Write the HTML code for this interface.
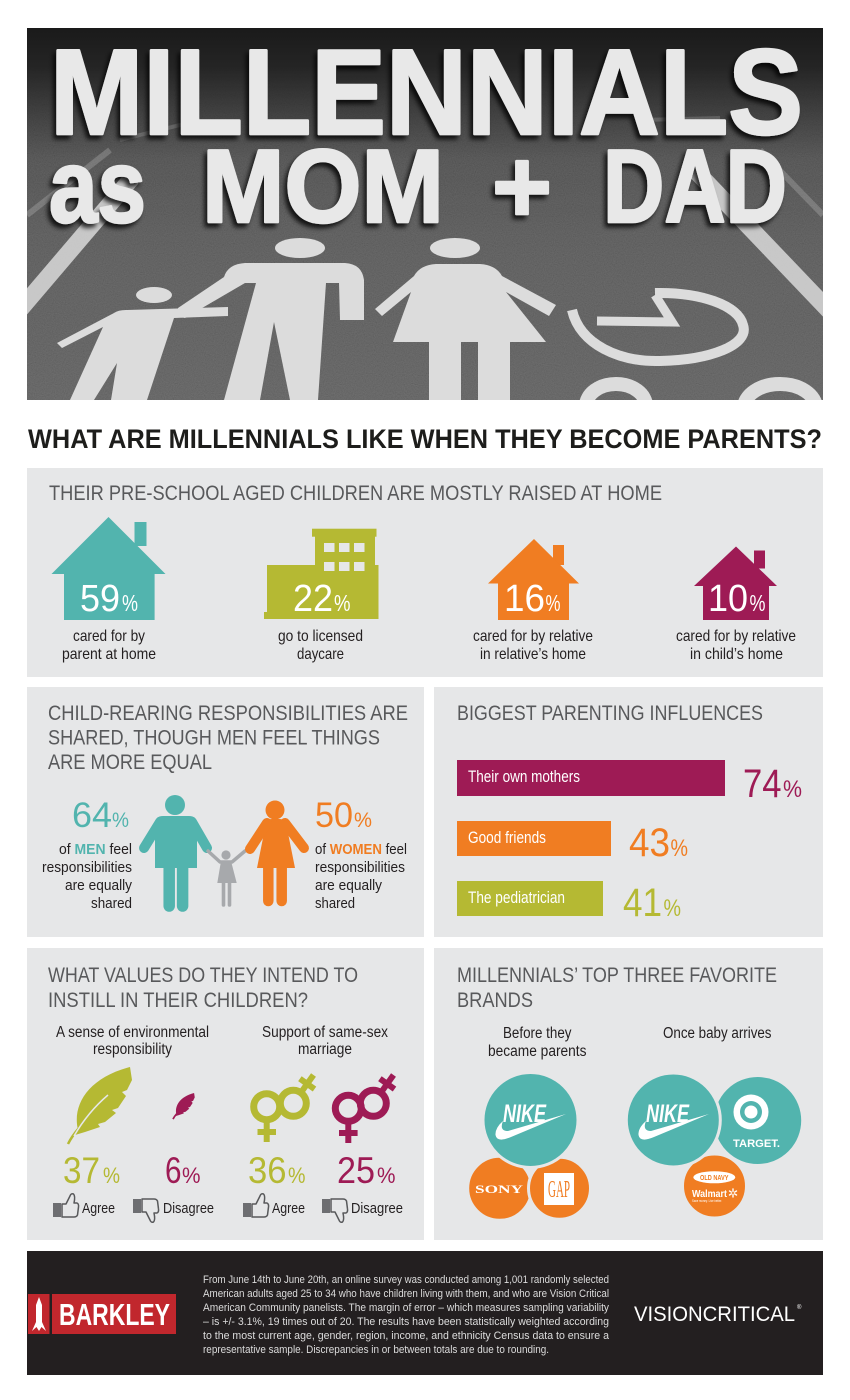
<!DOCTYPE html>
<html><head><meta charset="utf-8">
<style>
html,body{margin:0;padding:0;background:#fff;}
svg{display:block;}
.c{font-family:"Liberation Sans Narrow","Liberation Sans","DejaVu Sans Condensed",sans-serif;}
.s{font-family:"Liberation Sans","DejaVu Sans",sans-serif;}
.sf{font-family:"Liberation Serif","DejaVu Serif",serif;}
</style></head>
<body>
<svg width="850" height="1400" viewBox="0 0 850 1400" xmlns="http://www.w3.org/2000/svg">
<defs>
  <linearGradient id="sky" x1="0" y1="0" x2="0" y2="1">
    <stop offset="0" stop-color="#1a1a1a"/>
    <stop offset="0.12" stop-color="#262626"/>
    <stop offset="0.35" stop-color="#3e3e3e"/>
    <stop offset="0.6" stop-color="#4b4b4b"/>
    <stop offset="1" stop-color="#525252"/>
  </linearGradient>
  <linearGradient id="mg" x1="0" y1="0" x2="0" y2="1">
    <stop offset="0" stop-color="#000"/>
    <stop offset="0.1" stop-color="#000"/>
    <stop offset="0.35" stop-color="#fff"/>
    <stop offset="1" stop-color="#fff"/>
  </linearGradient>
  <mask id="nm"><rect x="27" y="28" width="796" height="372" fill="url(#mg)"/></mask>
  <filter id="sh" x="-5%" y="-10%" width="110%" height="130%">
    <feDropShadow dx="-3" dy="4" stdDeviation="2.5" flood-color="#000" flood-opacity="0.8"/>
  </filter>
  <filter id="nz" x="0" y="0" width="100%" height="100%">
    <feTurbulence type="fractalNoise" baseFrequency="0.9" numOctaves="2" seed="4"/>
    <feColorMatrix type="matrix" values="0.33 0.33 0.33 0 0  0.33 0.33 0.33 0 0  0.33 0.33 0.33 0 0  0 0 0 0 0.22"/>
  </filter>
  <clipPath id="hc"><rect x="27" y="28" width="796" height="372"/></clipPath>
  <g id="thumb">
    <rect x="53" y="1203" width="8" height="14" fill="#6d6e71"/>
    <path d="M62,1204 L66,1204 L70,1196 Q71,1193 73.5,1194 Q75.5,1196 74,1203 L77,1203 Q79,1204 78.5,1207 L77.5,1215 Q76.5,1217 74,1217 L62,1217 Z" fill="#e6e7e8" stroke="#58595b" stroke-width="1.5" stroke-linejoin="round"/>
  </g>
</defs>

<!-- HEADER -->
<g clip-path="url(#hc)">
  <rect x="27" y="28" width="796" height="372" fill="url(#sky)"/>
  <rect x="27" y="28" width="796" height="372" filter="url(#nz)" mask="url(#nm)"/>
  <!-- road stripes -->
  <g stroke="#d9d9d9" stroke-linecap="butt" fill="none">
    <line x1="18" y1="312" x2="132" y2="178" stroke-width="17" opacity="0.85"/>
    <line x1="690" y1="165" x2="838" y2="320" stroke-width="17" opacity="0.85"/>
    <line x1="27" y1="215" x2="110" y2="150" stroke-width="6" opacity="0.25"/>
    <line x1="120" y1="140" x2="200" y2="120" stroke-width="4" opacity="0.2"/>
    <line x1="760" y1="150" x2="823" y2="215" stroke-width="6" opacity="0.25"/>
    <line x1="640" y1="120" x2="720" y2="118" stroke-width="4" opacity="0.2"/>
  </g>
  <!-- figures -->
  <g fill="#dcdcdc">
    <ellipse cx="300" cy="248" rx="25" ry="10"/>
    <path d="M224,277 Q228,264 245,263 L345,263 Q362,264 364,280 L364,320 L340,320 L339,283 L326,283 L318,400 L290,400 L274,322 L260,400 L224,400 L256,283 L245,283 L185,318 L177,316 L178,308 Z"/>
    <ellipse cx="154" cy="295" rx="18" ry="8"/>
    <path d="M114,313 Q118,310 126,310 L228,307 L228,316 L174,318 L147,400 L111,400 L117,363 L94,400 L70,400 L103,327 L62,348 L57,343 Z"/>
    <ellipse cx="455" cy="248" rx="25" ry="10"/>
    <path d="M414,276 Q420,265 436,264 L480,264 Q496,265 502,276 L556,305 L549,316 L506,292 L546,342 L393,342 L411,292 L382,316 L375,309 Z"/>
    <rect x="429" y="342" width="32" height="60"/>
    <rect x="478" y="342" width="32" height="60"/>
  </g>
  <g fill="none" stroke="#dcdcdc">
    <path d="M572,310 C580,345 620,362 660,361 C710,360 750,345 743,325 C738,305 700,292 655,293" stroke-width="10"/>
    <path d="M655,295 L672,322 L597,321" stroke-width="9"/>
    <ellipse cx="616" cy="406" rx="30" ry="22" stroke-width="14"/>
    <ellipse cx="780" cy="408" rx="36" ry="24" stroke-width="14"/>
  </g>
  <!-- headline -->
  <g filter="url(#sh)" fill="#e8e8e8" stroke="#e8e8e8" stroke-width="2.5" stroke-linejoin="round" class="c" font-weight="bold">
    <text x="50" y="134" font-size="122" textLength="753" lengthAdjust="spacingAndGlyphs">MILLENNIALS</text>
    <text x="49" y="222" font-size="104" textLength="97" lengthAdjust="spacingAndGlyphs">as</text>
    <text x="202" y="222" font-size="104" textLength="242" lengthAdjust="spacingAndGlyphs">MOM</text>
    <text x="492" y="222" font-size="104" textLength="60" lengthAdjust="spacingAndGlyphs">+</text>
    <text x="603" y="222" font-size="104" textLength="184" lengthAdjust="spacingAndGlyphs">DAD</text>
  </g>
</g>

<!-- MAIN HEADING -->
<text class="c" x="28" y="448" font-size="26.5" font-weight="bold" fill="#1d1d1b" textLength="794" lengthAdjust="spacingAndGlyphs">WHAT ARE MILLENNIALS LIKE WHEN THEY BECOME PARENTS?</text>

<!-- PANELS -->
<g fill="#e6e7e8">
  <rect x="27" y="468" width="796" height="209"/>
  <rect x="27" y="687" width="397" height="250"/>
  <rect x="434" y="687" width="389" height="250"/>
  <rect x="27" y="948" width="397" height="292"/>
  <rect x="434" y="948" width="389" height="292"/>
</g>

<!-- PANEL 1 -->
<text class="c" x="49" y="500" font-size="21" fill="#58595b" textLength="613" lengthAdjust="spacingAndGlyphs">THEIR PRE-SCHOOL AGED CHILDREN ARE MOSTLY RAISED AT HOME</text>

<g fill="#52b4ae">
  <rect x="134.5" y="522" width="12" height="24"/>
  <polygon points="108.5,517 165.5,574 51.5,574"/>
  <rect x="64" y="573" width="90.6" height="47"/>
</g>
<g fill="#b5b933">
  <rect x="312" y="528.7" width="64.5" height="8"/>
  <rect x="315" y="536" width="60" height="31"/>
  <rect x="267" y="565" width="111.5" height="51"/>
  <rect x="264" y="612" width="114.5" height="7"/>
</g>
<g fill="#e6e7e8">
  <rect x="324" y="543" width="10.5" height="9"/>
  <rect x="339" y="543" width="10.5" height="9"/>
  <rect x="354" y="543" width="10.5" height="9"/>
  <rect x="324" y="562" width="10.5" height="9"/>
  <rect x="339" y="562" width="10.5" height="9"/>
  <rect x="354" y="562" width="10.5" height="9"/>
</g>
<g fill="#f07d22">
  <rect x="553" y="545" width="11" height="20"/>
  <polygon points="534,539 579,583.5 488,583.5"/>
  <rect x="498" y="583" width="71" height="37"/>
</g>
<g fill="#9e1b55">
  <rect x="754" y="550.5" width="11" height="18"/>
  <polygon points="736,546.5 777,586 694,586"/>
  <rect x="703" y="585.5" width="66" height="34.5"/>
</g>
<g class="c" fill="#ffffff">
  <text x="80" y="611" font-size="38" textLength="40" lengthAdjust="spacingAndGlyphs">59</text>
  <text x="122" y="611" font-size="23" textLength="16" lengthAdjust="spacingAndGlyphs">%</text>
  <text x="293" y="611" font-size="38" textLength="40" lengthAdjust="spacingAndGlyphs">22</text>
  <text x="334" y="611" font-size="23" textLength="16.5" lengthAdjust="spacingAndGlyphs">%</text>
  <text x="504" y="611" font-size="38" textLength="41" lengthAdjust="spacingAndGlyphs">16</text>
  <text x="545.5" y="611" font-size="23" textLength="15" lengthAdjust="spacingAndGlyphs">%</text>
  <text x="708" y="611" font-size="38" textLength="40" lengthAdjust="spacingAndGlyphs">10</text>
  <text x="749.5" y="611" font-size="23" textLength="16" lengthAdjust="spacingAndGlyphs">%</text>
</g>
<g class="c" fill="#231f20" font-size="16">
  <text x="73" y="641" textLength="72" lengthAdjust="spacingAndGlyphs">cared for by</text>
  <text x="62" y="659" textLength="94" lengthAdjust="spacingAndGlyphs">parent at home</text>
  <text x="278" y="641" textLength="85" lengthAdjust="spacingAndGlyphs">go to licensed</text>
  <text x="297" y="659" textLength="47" lengthAdjust="spacingAndGlyphs">daycare</text>
  <text x="473" y="641" textLength="120" lengthAdjust="spacingAndGlyphs">cared for by relative</text>
  <text x="480" y="659" textLength="106" lengthAdjust="spacingAndGlyphs">in relative’s home</text>
  <text x="676" y="641" textLength="120" lengthAdjust="spacingAndGlyphs">cared for by relative</text>
  <text x="690" y="659" textLength="93" lengthAdjust="spacingAndGlyphs">in child’s home</text>
</g>

<!-- PANEL 2 LEFT -->
<g class="c" fill="#58595b" font-size="21">
  <text x="48" y="720" textLength="360" lengthAdjust="spacingAndGlyphs">CHILD-REARING RESPONSIBILITIES ARE</text>
  <text x="48" y="744.5" textLength="332" lengthAdjust="spacingAndGlyphs">SHARED, THOUGH MEN FEEL THINGS</text>
  <text x="48" y="769" textLength="164" lengthAdjust="spacingAndGlyphs">ARE MORE EQUAL</text>
</g>
<g class="c">
  <text x="72" y="827" font-size="35" fill="#52b4ae" textLength="40" lengthAdjust="spacingAndGlyphs">64</text>
  <text x="112" y="827" font-size="21" fill="#52b4ae" textLength="17" lengthAdjust="spacingAndGlyphs">%</text>
  <text x="315" y="827" font-size="35" fill="#f07d22" textLength="38" lengthAdjust="spacingAndGlyphs">50</text>
  <text x="354" y="827" font-size="21" fill="#f07d22" textLength="18" lengthAdjust="spacingAndGlyphs">%</text>
</g>
<g class="s" fill="#231f20" font-size="14.5">
  <text x="59" y="854" textLength="73" lengthAdjust="spacingAndGlyphs">of <tspan font-weight="bold" fill="#52b4ae">MEN</tspan> feel</text>
  <text x="42" y="872" textLength="90" lengthAdjust="spacingAndGlyphs">responsibilities</text>
  <text x="65" y="890" textLength="67" lengthAdjust="spacingAndGlyphs">are equally</text>
  <text x="91" y="908" textLength="41" lengthAdjust="spacingAndGlyphs">shared</text>
  <text x="315" y="854" textLength="92" lengthAdjust="spacingAndGlyphs">of <tspan font-weight="bold" fill="#f07d22">WOMEN</tspan> feel</text>
  <text x="315" y="872" textLength="90" lengthAdjust="spacingAndGlyphs">responsibilities</text>
  <text x="315" y="890" textLength="67" lengthAdjust="spacingAndGlyphs">are equally</text>
  <text x="315" y="908" textLength="40" lengthAdjust="spacingAndGlyphs">shared</text>
</g>
<g fill="#52b4ae" stroke="#52b4ae" stroke-linecap="round">
  <circle cx="175" cy="805" r="10" stroke="none"/>
  <path d="M155,868 L155,824 Q155,816 163,816 L189,816 Q197,816 197,824 L197,868 Z" stroke="none"/>
  <line x1="160" y1="822" x2="144" y2="848" stroke-width="10"/>
  <line x1="192" y1="822" x2="207" y2="848" stroke-width="10"/>
  <line x1="169.2" y1="866" x2="169.2" y2="906" stroke-width="11.5"/>
  <line x1="182.6" y1="866" x2="182.6" y2="906" stroke-width="11.5"/>
</g>
<g fill="#a7a9ac" stroke="#a7a9ac" stroke-linecap="round">
  <circle cx="226" cy="855" r="4.6" stroke="none"/>
  <polyline points="208,851 220,862 232,862 245,851" fill="none" stroke-width="3.5" stroke-linejoin="round"/>
  <polygon points="221,861 231,861 236.7,883 217.3,883" stroke="none"/>
  <line x1="223.5" y1="882" x2="223.5" y2="905" stroke-width="3.6"/>
  <line x1="229.5" y1="882" x2="229.5" y2="905" stroke-width="3.6"/>
</g>
<g fill="#f07d22" stroke="#f07d22" stroke-linecap="round">
  <circle cx="275" cy="810" r="9.5" stroke="none"/>
  <path d="M265,828 Q265,819 272,819 L279,819 Q287,819 287,828 L295,868 L257,868 Z" stroke="none"/>
  <line x1="267" y1="823" x2="250" y2="849" stroke-width="10"/>
  <line x1="285" y1="823" x2="304" y2="848" stroke-width="10"/>
  <line x1="268.3" y1="866" x2="268.3" y2="901" stroke-width="10.5"/>
  <line x1="281.7" y1="866" x2="281.7" y2="901" stroke-width="10.5"/>
</g>

<!-- PANEL 2 RIGHT -->
<text class="c" x="457" y="720" font-size="21" fill="#58595b" textLength="306" lengthAdjust="spacingAndGlyphs">BIGGEST PARENTING INFLUENCES</text>
<rect x="457" y="760" width="268" height="36" fill="#9e1b55"/>
<rect x="457" y="821" width="154" height="35" fill="#f07d22"/>
<rect x="457" y="881" width="146" height="35" fill="#b5b933"/>
<g class="c" fill="#ffffff" font-size="16.5">
  <text x="468" y="782" textLength="112" lengthAdjust="spacingAndGlyphs">Their own mothers</text>
  <text x="468" y="843" textLength="78" lengthAdjust="spacingAndGlyphs">Good friends</text>
  <text x="468" y="903" textLength="97" lengthAdjust="spacingAndGlyphs">The pediatrician</text>
</g>
<g class="c">
  <text x="743" y="797" font-size="40" fill="#9e1b55" textLength="38.5" lengthAdjust="spacingAndGlyphs">74</text>
  <text x="783" y="797" font-size="24" fill="#9e1b55" textLength="19" lengthAdjust="spacingAndGlyphs">%</text>
  <text x="629" y="856" font-size="40" fill="#f07d22" textLength="41" lengthAdjust="spacingAndGlyphs">43</text>
  <text x="670.5" y="856" font-size="24" fill="#f07d22" textLength="17.5" lengthAdjust="spacingAndGlyphs">%</text>
  <text x="623" y="916" font-size="40" fill="#b5b933" textLength="39" lengthAdjust="spacingAndGlyphs">41</text>
  <text x="663.5" y="916" font-size="24" fill="#b5b933" textLength="17.5" lengthAdjust="spacingAndGlyphs">%</text>
</g>

<!-- PANEL 3 LEFT -->
<g class="c" fill="#58595b" font-size="21">
  <text x="48" y="982" textLength="310" lengthAdjust="spacingAndGlyphs">WHAT VALUES DO THEY INTEND TO</text>
  <text x="48" y="1007" textLength="260" lengthAdjust="spacingAndGlyphs">INSTILL IN THEIR CHILDREN?</text>
</g>
<g class="c" fill="#231f20" font-size="15.5">
  <text x="56" y="1037" textLength="153" lengthAdjust="spacingAndGlyphs">A sense of environmental</text>
  <text x="93" y="1054" textLength="79" lengthAdjust="spacingAndGlyphs">responsibility</text>
  <text x="262" y="1037" textLength="126" lengthAdjust="spacingAndGlyphs">Support of same-sex</text>
  <text x="298" y="1054" textLength="54" lengthAdjust="spacingAndGlyphs">marriage</text>
</g>
<g>
  <path d="M78,1130 C72,1105 88,1078 130,1067 L132,1080 L127,1090 L122,1092 L126,1096 L118,1108 L112,1110 L116,1113 L105,1122 L98,1124 L100,1127 L85,1132 L75,1135 Z" fill="#b5b933"/>
  <path d="M79,1128 Q72,1136 68,1144" stroke="#b5b933" stroke-width="2.5" fill="none"/>
  <path d="M74,1136 Q88,1112 108,1095" stroke="#e6e7e8" stroke-width="1.5" fill="none"/>
</g>
<g transform="translate(173,1093) scale(0.34) translate(-68,-1067)">
  <path d="M78,1130 C72,1105 88,1078 130,1067 L132,1080 L127,1090 L122,1092 L126,1096 L118,1108 L112,1110 L116,1113 L105,1122 L98,1124 L100,1127 L85,1132 L75,1135 Z" fill="#9e1b55"/>
  <path d="M79,1128 Q72,1136 68,1144" stroke="#9e1b55" stroke-width="5" fill="none"/>
</g>
<g fill="none" stroke="#b5b933" stroke-width="7">
  <circle cx="266.7" cy="1106.7" r="13"/>
  <line x1="266.7" y1="1120" x2="266.7" y2="1142" stroke-width="6"/>
  <line x1="257.5" y1="1132" x2="276" y2="1132" stroke-width="6"/>
  <circle cx="293.3" cy="1103.3" r="13"/>
  <line x1="302.6" y1="1090.3" x2="313.5" y2="1075" stroke-width="6"/>
  <line x1="299.9" y1="1078.7" x2="314.5" y2="1089.1" stroke-width="6"/>
</g>
<g fill="none" stroke="#9e1b55" stroke-width="7">
  <circle cx="348.3" cy="1108.3" r="13"/>
  <line x1="348.3" y1="1121.5" x2="348.3" y2="1143" stroke-width="6"/>
  <line x1="339" y1="1133" x2="357.6" y2="1133" stroke-width="6"/>
  <circle cx="373.3" cy="1103.3" r="13"/>
  <line x1="382.6" y1="1090.3" x2="393.5" y2="1075" stroke-width="6"/>
  <line x1="379.9" y1="1078.7" x2="394.5" y2="1089.1" stroke-width="6"/>
</g>
<g class="c">
  <text x="63" y="1183" font-size="37" fill="#b5b933" textLength="37" lengthAdjust="spacingAndGlyphs">37</text>
  <text x="103" y="1183" font-size="22" fill="#b5b933" textLength="17" lengthAdjust="spacingAndGlyphs">%</text>
  <text x="165" y="1183" font-size="37" fill="#9e1b55" textLength="16.5" lengthAdjust="spacingAndGlyphs">6</text>
  <text x="182" y="1183" font-size="22" fill="#9e1b55" textLength="18.5" lengthAdjust="spacingAndGlyphs">%</text>
  <text x="248" y="1183" font-size="37" fill="#b5b933" textLength="38.5" lengthAdjust="spacingAndGlyphs">36</text>
  <text x="288" y="1183" font-size="22" fill="#b5b933" textLength="17.5" lengthAdjust="spacingAndGlyphs">%</text>
  <text x="337" y="1183" font-size="37" fill="#9e1b55" textLength="38" lengthAdjust="spacingAndGlyphs">25</text>
  <text x="377" y="1183" font-size="22" fill="#9e1b55" textLength="18.5" lengthAdjust="spacingAndGlyphs">%</text>
</g>
<use href="#thumb"/>
<use href="#thumb" transform="matrix(1,0,0,-1,80,2416)"/>
<use href="#thumb" transform="translate(190,0)"/>
<use href="#thumb" transform="matrix(1,0,0,-1,269,2416)"/>
<g class="c" fill="#231f20" font-size="15">
  <text x="82" y="1213" textLength="33" lengthAdjust="spacingAndGlyphs">Agree</text>
  <text x="163" y="1213" textLength="51" lengthAdjust="spacingAndGlyphs">Disagree</text>
  <text x="272" y="1213" textLength="33" lengthAdjust="spacingAndGlyphs">Agree</text>
  <text x="351" y="1213" textLength="52" lengthAdjust="spacingAndGlyphs">Disagree</text>
</g>

<!-- PANEL 3 RIGHT -->
<g class="c" fill="#58595b" font-size="21">
  <text x="457" y="982" textLength="320" lengthAdjust="spacingAndGlyphs">MILLENNIALS’ TOP THREE FAVORITE</text>
  <text x="457" y="1007" textLength="76" lengthAdjust="spacingAndGlyphs">BRANDS</text>
</g>
<g class="c" fill="#231f20" font-size="15.5">
  <text x="503" y="1038" textLength="68.5" lengthAdjust="spacingAndGlyphs">Before they</text>
  <text x="488" y="1056" textLength="98.5" lengthAdjust="spacingAndGlyphs">became parents</text>
  <text x="663" y="1038" textLength="108.5" lengthAdjust="spacingAndGlyphs">Once baby arrives</text>
</g>
<g stroke="#e6e7e8" stroke-width="3">
  <circle cx="499.7" cy="1188.3" r="32" fill="#f07d22"/>
  <circle cx="559.5" cy="1188.3" r="31" fill="#f07d22"/>
  <circle cx="530.5" cy="1120" r="47.5" fill="#52b4ae"/>
</g>
<text class="sf" x="475" y="1193" font-size="12" font-weight="bold" fill="#ffffff" textLength="48" lengthAdjust="spacingAndGlyphs">SONY</text>
<rect x="544" y="1173" width="30" height="32" fill="#ffffff"/>
<text class="sf" x="548" y="1197" font-size="24" fill="#f07d22" textLength="22" lengthAdjust="spacingAndGlyphs">GAP</text>
<g id="nike">
  <text class="c" x="503" y="1122" font-size="25" font-weight="bold" font-style="italic" fill="#ffffff" textLength="43" lengthAdjust="spacingAndGlyphs">NIKE</text>
  <path d="M566,1114 L511,1137 Q497,1143 495.5,1135 Q495,1128 503,1121 Q499,1131 508,1131 Z" fill="#ffffff"/>
</g>
<g stroke="#e6e7e8" stroke-width="3">
  <circle cx="714.5" cy="1186" r="32" fill="#f07d22"/>
  <circle cx="757.7" cy="1120.5" r="45" fill="#52b4ae"/>
  <circle cx="673.3" cy="1120" r="47" fill="#52b4ae"/>
</g>
<use href="#nike" transform="translate(143,0)"/>
<circle cx="751" cy="1112" r="17.5" fill="#ffffff"/>
<circle cx="751" cy="1112" r="11" fill="#52b4ae"/>
<circle cx="751" cy="1112" r="6.5" fill="#ffffff"/>
<text class="s" x="733" y="1147" font-size="11" font-weight="bold" fill="#ffffff" textLength="47" lengthAdjust="spacingAndGlyphs">TARGET.</text>
<ellipse cx="714.3" cy="1177.3" rx="21" ry="6" fill="#ffffff"/>
<text class="s" x="700" y="1180" font-size="7" font-weight="bold" fill="#f07d22" textLength="28.5" lengthAdjust="spacingAndGlyphs">OLD NAVY</text>
<text class="s" x="692" y="1197" font-size="10" font-weight="bold" fill="#ffffff" textLength="35" lengthAdjust="spacingAndGlyphs">Walmart</text>
<g stroke="#ffffff" stroke-width="1.4" stroke-linecap="round">
  <line x1="733" y1="1189" x2="733" y2="1191.5"/>
  <line x1="733" y1="1194.5" x2="733" y2="1197"/>
  <line x1="729.5" y1="1191" x2="731.5" y2="1192.2"/>
  <line x1="734.5" y1="1193.8" x2="736.5" y2="1195"/>
  <line x1="729.5" y1="1195" x2="731.5" y2="1193.8"/>
  <line x1="734.5" y1="1192.2" x2="736.5" y2="1191"/>
</g>
<text class="s" x="692" y="1202" font-size="3.5" fill="#ffffff" textLength="30" lengthAdjust="spacingAndGlyphs">Save money. Live better.</text>

<!-- FOOTER -->
<rect x="27" y="1251" width="796" height="124" fill="#231f20"/>
<rect x="28" y="1294" width="21.5" height="40" fill="#c1272d"/>
<rect x="52" y="1294" width="124" height="40" fill="#c1272d"/>
<path d="M39,1297 L42,1305 L42,1322 L46,1331 L41.5,1327 L39,1331 L36.5,1327 L32,1331 L36,1322 L36,1305 Z" fill="#ffffff"/>
<text class="c" x="59" y="1325" font-size="31" font-weight="bold" fill="#ffffff" textLength="111" lengthAdjust="spacingAndGlyphs">BARKLEY</text>
<g class="c" fill="#dcdcdc" font-size="10.8">
  <text x="203" y="1283" textLength="406" lengthAdjust="spacingAndGlyphs">From June 14th to June 20th, an online survey was conducted among 1,001 randomly selected</text>
  <text x="203" y="1297" textLength="406" lengthAdjust="spacingAndGlyphs">American adults aged 25 to 34 who have children living with them, and who are Vision Critical</text>
  <text x="203" y="1311" textLength="406" lengthAdjust="spacingAndGlyphs">American Community panelists. The margin of error – which measures sampling variability</text>
  <text x="203" y="1325" textLength="406" lengthAdjust="spacingAndGlyphs">– is +/- 3.1%, 19 times out of 20. The results have been statistically weighted according</text>
  <text x="203" y="1339" textLength="406" lengthAdjust="spacingAndGlyphs">to the most current age, gender, region, income, and ethnicity Census data to ensure a</text>
  <text x="203" y="1353" textLength="346" lengthAdjust="spacingAndGlyphs">representative sample. Discrepancies in or between totals are due to rounding.</text>
</g>
<text class="s" x="634" y="1321" font-size="21" fill="#ffffff" textLength="161" lengthAdjust="spacingAndGlyphs">VISIONCRITICAL</text>
<text class="s" x="797" y="1309" font-size="6" fill="#ffffff">®</text>
</svg>
</body></html>
